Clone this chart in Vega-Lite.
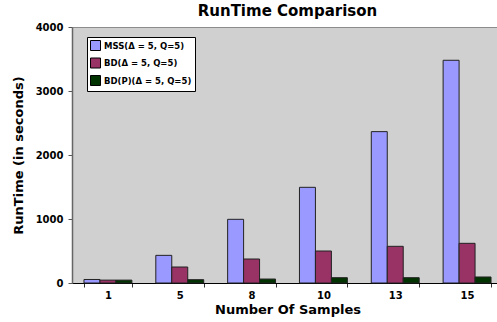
{
  "$schema": "https://vega.github.io/schema/vega-lite/v6.json",
  "autosize": {"type": "none"},
  "padding": {"left": 72, "top": 27, "right": 0, "bottom": 39},
  "width": 431,
  "height": 256,
  "background": "white",
  "title": {
    "text": "RunTime Comparison",
    "font": "DejaVu Sans",
    "fontSize": 15,
    "fontWeight": "bold",
    "color": "black",
    "anchor": "middle",
    "offset": 3
  },
  "config": {
    "view": {"fill": "#D0D0D0", "stroke": "#8C8C8C", "strokeWidth": 1},
    "font": "DejaVu Sans"
  },
  "data": {
    "values": [
      {"samples": "1", "series": "MSS(Δ = 5, Q=5)", "runtime": 55},
      {"samples": "1", "series": "BD(Δ = 5, Q=5)", "runtime": 45},
      {"samples": "1", "series": "BD(P)(Δ = 5, Q=5)", "runtime": 45},
      {"samples": "5", "series": "MSS(Δ = 5, Q=5)", "runtime": 432},
      {"samples": "5", "series": "BD(Δ = 5, Q=5)", "runtime": 250},
      {"samples": "5", "series": "BD(P)(Δ = 5, Q=5)", "runtime": 52},
      {"samples": "8", "series": "MSS(Δ = 5, Q=5)", "runtime": 995},
      {"samples": "8", "series": "BD(Δ = 5, Q=5)", "runtime": 375},
      {"samples": "8", "series": "BD(P)(Δ = 5, Q=5)", "runtime": 62},
      {"samples": "10", "series": "MSS(Δ = 5, Q=5)", "runtime": 1495},
      {"samples": "10", "series": "BD(Δ = 5, Q=5)", "runtime": 500},
      {"samples": "10", "series": "BD(P)(Δ = 5, Q=5)", "runtime": 83},
      {"samples": "13", "series": "MSS(Δ = 5, Q=5)", "runtime": 2365},
      {"samples": "13", "series": "BD(Δ = 5, Q=5)", "runtime": 573},
      {"samples": "13", "series": "BD(P)(Δ = 5, Q=5)", "runtime": 83},
      {"samples": "15", "series": "MSS(Δ = 5, Q=5)", "runtime": 3480},
      {"samples": "15", "series": "BD(Δ = 5, Q=5)", "runtime": 620},
      {"samples": "15", "series": "BD(P)(Δ = 5, Q=5)", "runtime": 94}
    ]
  },
  "mark": {"type": "bar", "stroke": "#222222", "strokeWidth": 1},
  "encoding": {
    "x": {
      "field": "samples",
      "type": "ordinal",
      "sort": ["1", "5", "8", "10", "13", "15"],
      "scale": {"paddingInner": 0.333, "paddingOuter": 0.1667},
      "axis": {
        "title": "Number Of Samples",
        "titleFont": "DejaVu Sans",
        "titleFontSize": 13,
        "titleFontWeight": "bold",
        "titleColor": "black",
        "titlePadding": 3,
        "labelAngle": 0,
        "labelFont": "DejaVu Sans",
        "labelFontSize": 10,
        "labelFontWeight": "bold",
        "labelColor": "black",
        "labelPadding": 3,
        "tickBand": "extent",
        "tickSize": 4,
        "tickColor": "#333333",
        "domainColor": "#000000",
        "domainWidth": 1
      }
    },
    "xOffset": {
      "field": "series",
      "type": "nominal",
      "sort": ["MSS(Δ = 5, Q=5)", "BD(Δ = 5, Q=5)", "BD(P)(Δ = 5, Q=5)"],
      "scale": {"paddingInner": 0, "paddingOuter": 0}
    },
    "y": {
      "field": "runtime",
      "type": "quantitative",
      "scale": {"domain": [0, 4000], "nice": false},
      "axis": {
        "title": "RunTime (in seconds)",
        "titleFont": "DejaVu Sans",
        "titleFontSize": 13,
        "titleFontWeight": "bold",
        "titleColor": "black",
        "titlePadding": 10,
        "values": [0, 1000, 2000, 3000, 4000],
        "format": "d",
        "grid": false,
        "labelFont": "DejaVu Sans",
        "labelFontSize": 10,
        "labelFontWeight": "bold",
        "labelColor": "black",
        "labelPadding": 5,
        "tickSize": 4,
        "tickColor": "#555555",
        "domainColor": "#666666",
        "domainWidth": 1.5
      }
    },
    "color": {
      "field": "series",
      "type": "nominal",
      "sort": ["MSS(Δ = 5, Q=5)", "BD(Δ = 5, Q=5)", "BD(P)(Δ = 5, Q=5)"],
      "scale": {
        "domain": ["MSS(Δ = 5, Q=5)", "BD(Δ = 5, Q=5)", "BD(P)(Δ = 5, Q=5)"],
        "range": ["#9999FF", "#993366", "#003300"]
      },
      "legend": {
        "title": null,
        "orient": "none",
        "legendX": 15,
        "legendY": 10,
        "fillColor": "white",
        "strokeColor": "black",
        "padding": 3,
        "symbolType": "square",
        "symbolSize": 100,
        "symbolStrokeColor": "black",
        "symbolStrokeWidth": 1,
        "symbolOpacity": 1,
        "labelFont": "DejaVu Sans",
        "labelFontSize": 8.5,
        "labelFontWeight": "bold",
        "labelColor": "black",
        "labelOffset": 3,
        "rowPadding": 2.5,
        "cornerRadius": 0
      }
    }
  }
}
